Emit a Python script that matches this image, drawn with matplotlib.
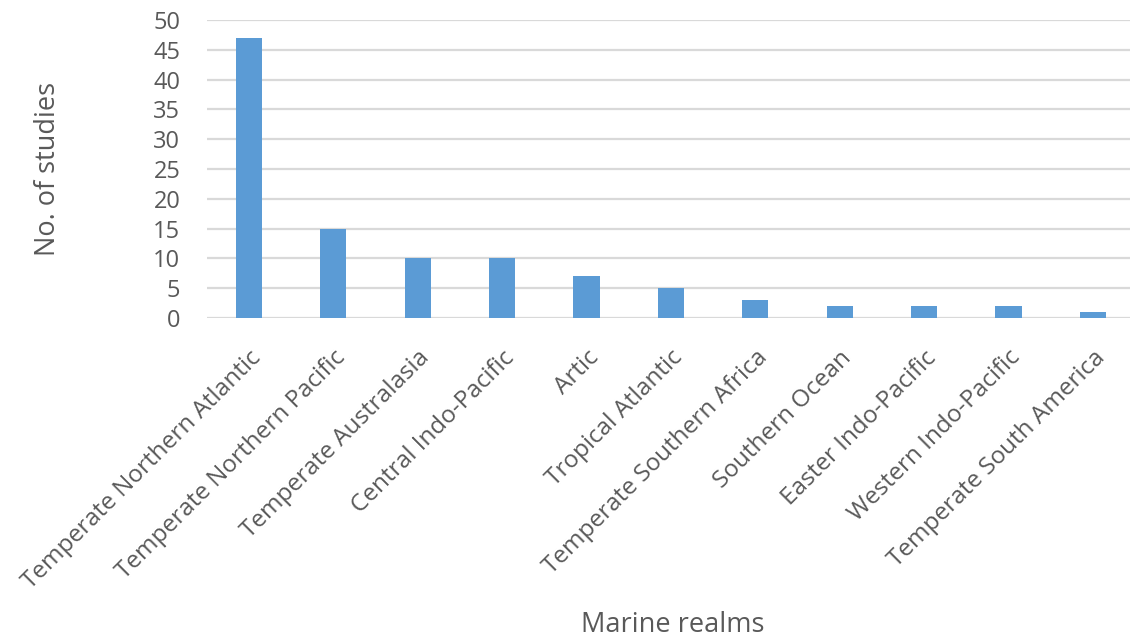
import matplotlib.pyplot as plt
import matplotlib as mpl

mpl.rcParams.update({
    "font.family": ["Open Sans", "DejaVu Sans"],
    "figure.facecolor": "white",
    "axes.facecolor": "white",
})

# Number of studies per marine realm
realms = [
    "Temperate Northern Atlantic",
    "Temperate Northern Pacific",
    "Temperate Australasia",
    "Central Indo-Pacific",
    "Artic",
    "Tropical Atlantic",
    "Temperate Southern Africa",
    "Southern Ocean",
    "Easter Indo-Pacific",
    "Western Indo-Pacific",
    "Temperate South America",
]
n_studies = [47, 15, 10, 10, 7, 5, 3, 2, 2, 2, 1]
y_ticks = list(range(0, 51, 5))

TEXT = "#595959"
BAR = "#5B9BD5"
GRID = "#D9D9D9"

fig = plt.figure(figsize=(11.30, 6.39), dpi=100)
ax = fig.add_axes([0.183, 0.5023, 0.8215, 0.4664])

x = range(len(realms))
ax.bar(x, n_studies, width=0.31, color=BAR, zorder=3)

ax.set_xlim(-0.5, len(realms) - 0.5)
ax.set_ylim(0, 50)
ax.set_yticks(y_ticks)
ax.yaxis.grid(True, color=GRID, linewidth=1.6, zorder=0)
ax.set_axisbelow(True)
for s in ax.spines.values():
    s.set_visible(False)

ax.set_xticks(list(x))
ax.set_xticklabels(realms, rotation=45, ha="right", rotation_mode="anchor",
                   fontsize=17.5, color=TEXT)
ax.tick_params(axis="x", length=0, pad=20)
ax.tick_params(axis="y", length=0, pad=19, labelsize=17, labelcolor=TEXT)

fig.text(0.0425, 0.735, "No. of studies", rotation=90, ha="center", va="center",
         fontsize=19.5, color=TEXT)
fig.text(0.595, 0.022, "Marine realms", ha="center", va="center",
         fontsize=19.5, color=TEXT)

fig.savefig("out.png", dpi=100)
